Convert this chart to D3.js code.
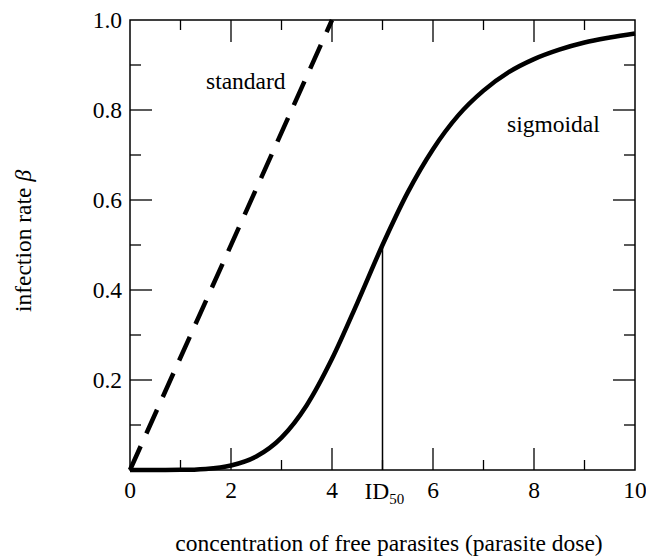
<!DOCTYPE html>
<html>
<head>
<meta charset="utf-8">
<script src="https://cdn.jsdelivr.net/npm/d3@7"></script>
<style>
  body { margin: 0; background: #fff; }
  text { font-family: "Liberation Serif", "DejaVu Serif", serif; fill: #000; }
</style>
</head>
<body>
<script>
// dose values along x, and sigmoid infection rate
var doses = [0, 0.5, 1, 1.5, 2, 2.5, 3, 3.5, 4, 4.5, 5, 5.5, 6, 6.5, 7, 7.5, 8, 8.5, 9, 9.5, 10];
var sigmoidal = [0, 0, 0.0003, 0.0024, 0.010, 0.030, 0.072, 0.144, 0.247, 0.371, 0.5,
                 0.617, 0.713, 0.788, 0.843, 0.884, 0.913, 0.934, 0.950, 0.961, 0.970];
// standard (linear) model: straight from origin up to 1.0
var standardX = [0, 4];
var standardY = [0, 1];
var xTicks = [0, 2, 4, 6, 8, 10];
var yTicks = [0.2, 0.4, 0.6, 0.8, 1.0];
var id50 = 5;

var width = 646, height = 557;
var margin = {left: 130, right: 11, top: 20, bottom: 87};
var fs = '23.5px';

var x = d3.scaleLinear().domain([0, 10]).range([margin.left, width - margin.right]);
var y = d3.scaleLinear().domain([0, 1]).range([height - margin.bottom, margin.top]);

var svg = d3.select('body').append('svg')
  .attr('width', width)
  .attr('height', height);

var x0 = x.range()[0], x1 = x.range()[1],
    y0 = y.range()[0], y1 = y.range()[1];

// ticks on all four sides, pointing inward
var minorX = d3.range(1, 10, 2), minorY = d3.range(0.1, 1, 0.2);
var tickG = svg.append('g').attr('stroke', '#000').attr('stroke-width', 1.3);

function xTick(v, len) {
  tickG.append('line').attr('x1', x(v)).attr('x2', x(v)).attr('y1', y0).attr('y2', y0 - len);
  tickG.append('line').attr('x1', x(v)).attr('x2', x(v)).attr('y1', y1).attr('y2', y1 + len);
}
function yTick(v, len) {
  tickG.append('line').attr('y1', y(v)).attr('y2', y(v)).attr('x1', x0).attr('x2', x0 + len);
  tickG.append('line').attr('y1', y(v)).attr('y2', y(v)).attr('x1', x1).attr('x2', x1 - len);
}
xTicks.slice(1, -1).forEach(function(v) { xTick(v, 22); });
minorX.forEach(function(v) { xTick(v, 10); });
yTicks.slice(0, -1).forEach(function(v) { yTick(v, 22); });
minorY.forEach(function(v) { yTick(v, 11); });

// frame
svg.append('rect')
  .attr('x', x0).attr('y', y1)
  .attr('width', x1 - x0).attr('height', y0 - y1)
  .attr('fill', 'none').attr('stroke', '#000').attr('stroke-width', 1.5);

// tick labels
svg.selectAll('.xl').data(xTicks).enter().append('text')
  .attr('x', function(d) { return x(d); })
  .attr('y', y0 + 28)
  .attr('text-anchor', 'middle')
  .style('font-size', fs)
  .text(function(d) { return d; });

svg.selectAll('.yl').data(yTicks).enter().append('text')
  .attr('x', x0 - 8)
  .attr('y', function(d) { return y(d) + 8; })
  .attr('text-anchor', 'end')
  .style('font-size', fs)
  .text(function(d) { return d3.format('.1f')(d); });

// ID50 marker
svg.append('line')
  .attr('x1', x(id50)).attr('x2', x(id50))
  .attr('y1', y0).attr('y2', y(0.5))
  .attr('stroke', '#000').attr('stroke-width', 1.5);

var idLabel = svg.append('text')
  .attr('x', x(id50) - 18)
  .attr('y', y0 + 29)
  .style('font-size', fs);
idLabel.append('tspan').text('ID');
idLabel.append('tspan').attr('dy', 5).style('font-size', '15px').text('50');

// curves
var line = d3.line()
  .x(function(d) { return x(d[0]); })
  .y(function(d) { return y(d[1]); });

svg.append('path')
  .datum(d3.zip(standardX, standardY))
  .attr('d', line)
  .attr('fill', 'none')
  .attr('stroke', '#000')
  .attr('stroke-width', 4.5)
  .attr('stroke-dasharray', '26,14');

svg.append('path')
  .datum(d3.zip(doses, sigmoidal))
  .attr('d', line.curve(d3.curveMonotoneX))
  .attr('fill', 'none')
  .attr('stroke', '#000')
  .attr('stroke-width', 4.5);

// curve labels
svg.append('text').attr('x', 206).attr('y', 89).style('font-size', fs).text('standard');
svg.append('text').attr('x', 507).attr('y', 132).style('font-size', fs).text('sigmoidal');

// axis titles
svg.append('text')
  .attr('x', 389)
  .attr('y', 551)
  .attr('text-anchor', 'middle')
  .style('font-size', fs)
  .text('concentration of free parasites (parasite dose)');

var yTitle = svg.append('text')
  .attr('transform', 'translate(31,241) rotate(-90)')
  .attr('text-anchor', 'middle')
  .style('font-size', fs);
yTitle.append('tspan').text('infection rate ');
yTitle.append('tspan').style('font-style', 'italic').text('β');
</script>
</body>
</html>
